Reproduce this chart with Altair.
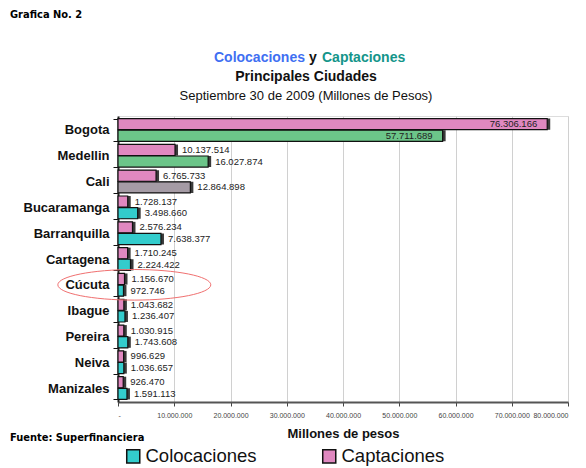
import altair as alt
import pandas as pd

cities = ["Bogota", "Medellin", "Cali", "Bucaramanga", "Barranquilla", "Cartagena",
          "Cúcuta", "Ibague", "Pereira", "Neiva", "Manizales"]
captaciones = [76306166, 10137514, 6765733, 1728137, 2576234, 1710245,
               1156670, 1043682, 1030915, 996629, 926470]
colocaciones = [57711689, 16027874, 12864898, 3498660, 7638377, 2224422,
                972746, 1236407, 1743608, 1036657, 1591113]
series = ["Captaciones", "Colocaciones"]
x_ticks = [0, 10000000, 20000000, 30000000, 40000000, 50000000, 60000000, 70000000, 80000000]

special_col = {"Bogota": "verde", "Medellin": "verde", "Cali": "gris"}

rows = []
for c, cap, col in zip(cities, captaciones, colocaciones):
    rows.append(dict(city=c, serie="Captaciones", valor=cap, key="Captaciones"))
    rows.append(dict(city=c, serie="Colocaciones", valor=col, key=special_col.get(c, "Colocaciones")))
df = pd.DataFrame(rows)
df["label"] = df["valor"].map(lambda v: f"{v:,}".replace(",", "."))

FONT = "Liberation Sans"
NARROW = "DejaVu Sans Condensed, Liberation Sans Narrow, Liberation Sans"

y_enc = alt.Y("city:N", sort=cities, title=None,
              scale=alt.Scale(paddingInner=0.12, paddingOuter=0.1),
              axis=alt.Axis(labelFont=FONT, labelFontWeight="bold", labelFontSize=13,
                            labelColor="#111", tickBand="extent", tickSize=5,
                            tickColor="#111", domainColor="#222", domainWidth=2,
                            labelPadding=4, grid=False))
yoff_enc = alt.YOffset("serie:N", sort=series, scale=alt.Scale(paddingInner=0.04))
x_enc = alt.X("valor:Q", scale=alt.Scale(domain=[0, 80000000], nice=False),
              axis=alt.Axis(values=x_ticks, labelOverlap=False,
                            labelExpr="datum.value == 0 ? '-' : replace(format(datum.value, ','), /,/g, '.')",
                            labelFont=FONT, labelFontSize=7, labelColor="#444", labelPadding=5,
                            tickColor="#444", tickSize=4, grid=True, gridColor="#d0d0d0",
                            domainColor="#555", domainWidth=2,
                            title="Millones de pesos", titleFont=FONT, titleFontSize=13,
                            titleFontWeight="bold", titleColor="#111", titlePadding=9))

base = alt.Chart(df)

shadow = base.mark_bar(xOffset=3, yOffset=-3, color="#3a3a3a").encode(
    x=x_enc, y=y_enc, yOffset=yoff_enc)

bars = base.mark_bar(stroke="#111", strokeWidth=1.2).encode(
    x=x_enc, y=y_enc, yOffset=yoff_enc,
    color=alt.Color("key:N",
                    scale=alt.Scale(domain=["Colocaciones", "Captaciones", "verde", "gris"],
                                    range=["#33cccc", "#e088c0", "#6cc589", "#a59ba5"]),
                    legend=alt.Legend(values=["Colocaciones", "Captaciones"], orient="none",
                                      legendX=6, legendY=331, direction="horizontal",
                                      title=None, symbolType="square", symbolSize=170,
                                      symbolStrokeColor="#111", symbolStrokeWidth=1.5,
                                      labelFont=FONT, labelFontSize=18.5, labelColor="#111",
                                      labelOffset=3, labelLimit=300,
                                      columnPadding=62)))

labels_out = base.transform_filter(alt.datum.city != "Bogota").mark_text(
    align="left", baseline="middle", dx=7, font=FONT, fontSize=9.5, color="#222").encode(
    x=x_enc, y=y_enc, yOffset=yoff_enc, text="label:N")

labels_in = base.transform_filter(alt.datum.city == "Bogota").mark_text(
    align="right", baseline="middle", dx=-10, font=FONT, fontSize=9.5, color="#222").encode(
    x=x_enc, y=y_enc, yOffset=yoff_enc, text="label:N")

highlight = alt.Chart(pd.DataFrame({"city": ["Cúcuta"], "valor": [2900000]})).mark_point(
    shape="M-1,0A1,0.2,0,1,1,1,0A1,0.2,0,1,1,-1,0Z",
    size=23400, filled=False, stroke="#f07070", strokeWidth=1, opacity=1).encode(
    x=alt.X("valor:Q"), y=alt.Y("city:N", sort=cities))

one = alt.Data(values=[{}])

def txt(text, x, y, font=FONT, **kw):
    return alt.Chart(one).mark_text(x=x, y=y, font=font, baseline="middle", **kw).encode(
        text=alt.value(text))

t1a = txt("Colocaciones", 187, -58, align="right", fontSize=14, fontWeight="bold", color="#3f6ff2")
t1b = txt("y", 195, -58, align="center", fontSize=14, fontWeight="bold", color="#111")
t1c = txt("Captaciones", 204, -58, align="left", fontSize=14, fontWeight="bold", color="#14958a")
t2 = txt("Principales Ciudades", 188, -39, align="center", fontSize=14, fontWeight="bold", color="#111")
t3 = txt("Septiembre 30 de 2009 (Millones de Pesos)", 188, -20, align="center", fontSize=13, color="#111")
g1 = txt("Grafica No. 2", -108, -101, font=NARROW, align="left", fontSize=11,
         fontWeight="bold", color="#000")
f1 = txt("Fuente: Superfinanciera", -108, 322, font=NARROW, align="left", fontSize=11,
         fontWeight="bold", color="#000")

chart = alt.layer(shadow, bars, labels_out, labels_in, highlight,
                  t1a, t1b, t1c, t2, t3, g1, f1).properties(
    width=450, height=286,
    autosize=alt.AutoSizeParams(type="none"),
    padding={"left": 110, "top": 108, "right": 10, "bottom": 66},
).configure_view(stroke="#999").configure(background="white")

chart.save("out.html", embed_options={"renderer": "svg", "actions": False})
